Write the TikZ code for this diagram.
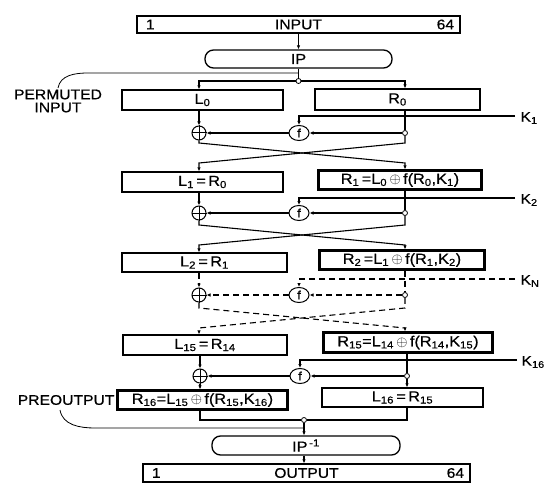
\documentclass[tikz,border=0pt]{standalone}
\usepackage{fontspec}
\setmainfont{Liberation Sans}[FakeStretch=1.12,FakeBold=0.6]
\usetikzlibrary{shapes.geometric,arrows.meta,calc}
\newcommand\mysub[1]{\textsubscript{#1}}
\newcommand\dframe[1]{\draw[line width=0.7pt] ([shift={(2.2pt,-2.2pt)}]#1.north west) rectangle ([shift={(-2.2pt,2.2pt)}]#1.south east);}
\begin{document}
\begin{tikzpicture}[x=1pt,y=-1pt,line width=1.1pt,
  >={Latex[length=4pt,width=3.5pt]},
  box/.style={draw,line width=1.3pt,inner sep=0pt,font=\fontsize{14.5}{16}\selectfont},
  ipbox/.style={box,rounded corners=8.5pt},
  xor/.style={draw,circle,minimum size=14pt,inner sep=0pt,line width=1pt},
  fbox/.style={draw,ellipse,minimum width=20pt,minimum height=15pt,inner sep=0pt,line width=1pt,font=\fontsize{12}{12}\selectfont},
  jn/.style={draw,circle,minimum size=5pt,inner sep=0pt,line width=0.8pt,fill=white},
  lab/.style={font=\fontsize{14}{14}\selectfont,inner sep=0pt},
  dsh/.style={dashed,dash pattern=on 6pt off 4pt}]
\useasboundingbox (0,0) rectangle (549,484);
\fill[white] (0,0) rectangle (549,484);

% ---- top ----
\node[box,minimum width=323pt,minimum height=17pt] (in) at (298.5,24.5) {};
\node[lab,anchor=west] (in1) at (in.west) [xshift=9pt] {1};
\node[lab] (inT) at (in.center) {INPUT};
\node[lab,anchor=east] (in64) at (in.east) [xshift=-6pt] {64};
\node[ipbox,minimum width=187pt,minimum height=18pt] (ip) at (298.5,59) {IP};
\draw[->] (in.south -| ip) -- (ip.north);
\node[jn] (j0) at (298.5,81) {};

\node[box,minimum width=161pt,minimum height=20pt] (L0) at (202.5,100) {L\mysub{0}};
\node[box,minimum width=165pt,minimum height=21pt] (R0) at (397.5,99.5) {R\mysub{0}};
\draw (ip.south) -- (j0.north);
\draw[->] (j0.west) -- (j0.west -| 199,0) -- (L0.north -| 199,0);
\draw[->] (j0.east) -- (j0.east -| 405,0) -- (R0.north -| 405,0);

\node[lab,align=center] (pin) at (58,101) {PERMUTED\\[-1pt]INPUT};
\coordinate (pinA) at (58,88);
\coordinate (pinB) at (298.5,73);
\draw[line width=0.8pt] (pinA) to[out=80,in=180] (88,73) -- (pinB);

% ---- round 1 ----
\node[xor] (x1) at (199,133) {};
\draw[line width=1pt] (x1.north) -- (x1.south) (x1.west) -- (x1.east);
\node[fbox] (f1) at (299,133) {f};
\node[jn] (j1) at (405,133) {};
\coordinate (k1) at (515,116);
\node[lab,anchor=west] (k1l) at (520,118) {K\mysub{1}};
\draw[->] (L0.south -| x1) -- (x1.north);
\draw (R0.south -| j1) -- (j1.north);
\draw[->] (j1.west) -- (f1.east);
\draw[->] (f1.west) -- (x1.east);
\draw[->] (k1) -- (k1 -| f1) -- (f1.north);

\node[box,minimum width=161pt,minimum height=20pt] (L1) at (202.5,182) {L\mysub{1}\,=\,R\mysub{0}};
\node[box,minimum width=164pt,minimum height=20pt] (R1) at (400,180) {R\mysub{1}\,=L\mysub{0}\,$\oplus$\,f(R\mysub{0},K\mysub{1})};
\dframe{R1}
\draw[->] (x1.south) -- (199,143) -- (405,163) -- (R1.north -| j1);
\draw[->] (j1.south) -- (405,143) -- (199,163) -- (L1.north -| x1);

% ---- round 2 ----
\node[xor] (x2) at (199,213) {};
\draw[line width=1pt] (x2.north) -- (x2.south) (x2.west) -- (x2.east);
\node[fbox] (f2) at (299,213) {f};
\node[jn] (j2) at (405,213) {};
\coordinate (k2) at (515,198);
\node[lab,anchor=west] (k2l) at (520,200) {K\mysub{2}};
\draw[->] (L1.south -| x2) -- (x2.north);
\draw (R1.south -| j2) -- (j2.north);
\draw[->] (j2.west) -- (f2.east);
\draw[->] (f2.west) -- (x2.east);
\draw[->] (k2) -- (k2 -| f2) -- (f2.north);

\node[box,minimum width=165pt,minimum height=19pt] (L2) at (204.5,262.5) {L\mysub{2}\,=\,R\mysub{1}};
\node[box,minimum width=166pt,minimum height=20pt] (R2) at (402,260) {R\mysub{2}\,=L\mysub{1}\,$\oplus$\,f(R\mysub{1},K\mysub{2})};
\dframe{R2}
\draw[->] (x2.south) -- (199,225) -- (405,245) -- (R2.north -| j2);
\draw[->] (j2.south) -- (405,225) -- (199,245) -- (L2.north -| x2);

% ---- round N (dashed) ----
\node[xor] (xn) at (199,295) {};
\draw[line width=1pt] (xn.north) -- (xn.south) (xn.west) -- (xn.east);
\node[fbox] (fn) at (299,295) {f};
\node[jn] (jn) at (405,295) {};
\coordinate (kn) at (515,279);
\node[lab,anchor=west] (knl) at (520,281) {K\mysub{N}};
\draw[->,dsh] (L2.south -| xn) -- (xn.north);
\draw[dsh] (R2.south -| jn) -- (jn.north);
\draw[->,dsh] (jn.west) -- (fn.east);
\draw[->,dsh] (fn.west) -- (xn.east);
\draw[->,dsh] (kn) -- (kn -| fn) -- (fn.north);

\node[box,minimum width=164pt,minimum height=20pt] (L15) at (205,345) {L\mysub{15}\,=\,R\mysub{14}};
\node[box,minimum width=170pt,minimum height=21pt] (R15) at (408,342.5) {R\mysub{15}=L\mysub{14}\,$\oplus$\,f(R\mysub{14},K\mysub{15})};
\dframe{R15}
\draw[->,dsh] (xn.south) -- (199,308) -- (405,328) -- (R15.north -| jn);
\draw[->,dsh] (jn.south) -- (405,308) -- (199,328) -- (L15.north -| xn);

% ---- round 16 ----
\node[xor] (x16) at (200,376) {};
\draw[line width=1pt] (x16.north) -- (x16.south) (x16.west) -- (x16.east);
\node[fbox] (f16) at (300,376) {f};
\node[jn] (j16) at (407,376) {};
\coordinate (k16) at (517,360);
\node[lab,anchor=west] (k16l) at (521,362) {K\mysub{16}};
\draw[->] (L15.south -| x16) -- (x16.north);
\draw (R15.south -| j16) -- (j16.north);
\draw[->] (j16.west) -- (f16.east);
\draw[->] (f16.west) -- (x16.east);
\draw[->] (k16) -- (k16 -| f16) -- (f16.north);

\node[box,minimum width=171pt,minimum height=20pt] (R16) at (202.5,400) {R\mysub{16}=L\mysub{15}\,$\oplus$\,f(R\mysub{15},K\mysub{16})};
\dframe{R16}
\node[box,minimum width=161pt,minimum height=19pt] (L16) at (402.5,397.5) {L\mysub{16}\,=\,R\mysub{15}};
\draw[->] (x16.south) -- (R16.north -| x16);
\draw[->] (j16.south) -- (L16.north -| j16);

\node[lab,anchor=east] (pre) at (115,400) {PREOUTPUT};

% ---- bottom ----
\node[jn] (jo) at (304,420) {};
\draw (R16.south -| x16) -- (200,420) -- (jo.west);
\draw (L16.south -| j16) -- (407,420) -- (jo.east);
\node[ipbox,minimum width=188pt,minimum height=19pt] (ipi) at (306,445.5) {IP\textsuperscript{\,-1}};
\draw[->] (jo.south) -- (ipi.north -| jo);
\coordinate (poA) at (60,410);
\coordinate (poB) at (304,428);
\draw[line width=0.8pt] (poA) to[out=-80,in=180] (95,428) -- (poB);

\node[box,minimum width=327pt,minimum height=18pt] (out) at (306.5,473) {};
\node[lab,anchor=west] (out1) at (out.west) [xshift=9pt] {1};
\node[lab] (outT) at (out.center) {OUTPUT};
\node[lab,anchor=east] (out64) at (out.east) [xshift=-6pt] {64};
\draw[->] (ipi.south -| jo) -- (out.north -| jo);
\end{tikzpicture}
\end{document}
